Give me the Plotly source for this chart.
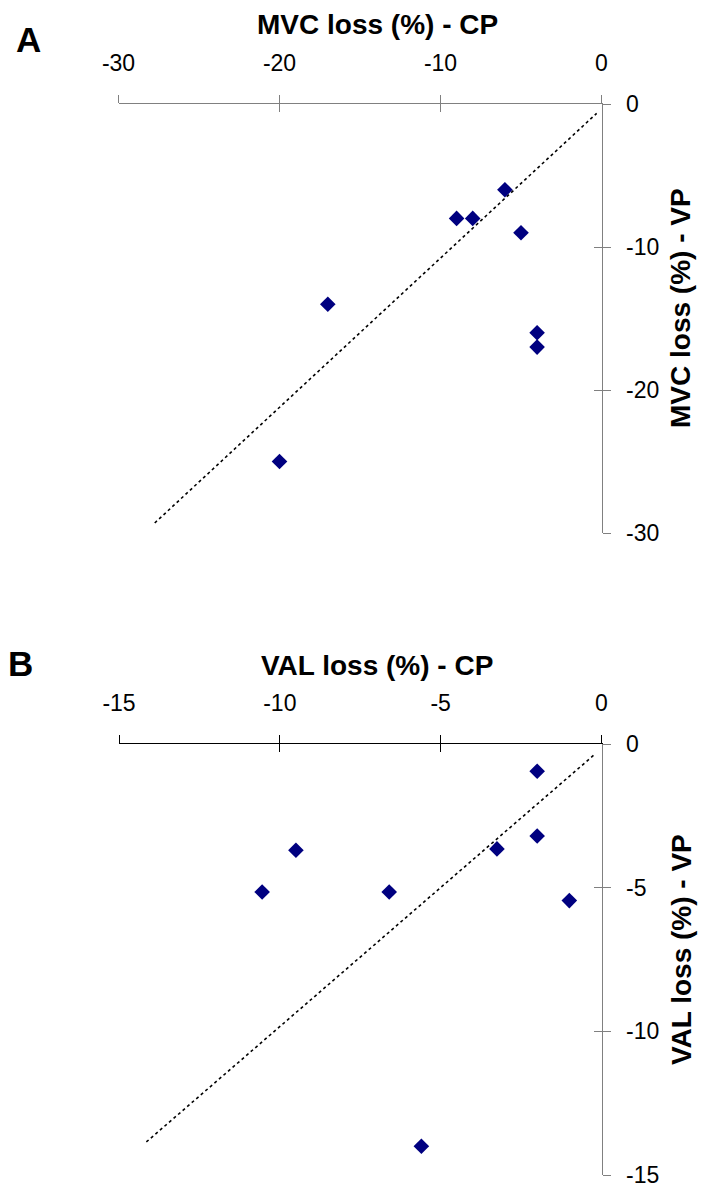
import plotly.graph_objects as go

W, H = 701, 1189

# Panel A data (MVC loss %)
mvc_cp = [-20, -17, -9, -8, -6, -5, -4, -4]
mvc_vp = [-25, -14, -8, -8, -6, -9, -16, -17]
line_a_x = [-27.75, -0.3]
line_a_y = [-29.3, -0.65]
a_xticks = [-30, -20, -10, 0]
a_xticklabels = ["-30", "-20", "-10", "0"]
a_yticks = [0, -10, -20, -30]
a_yticklabels = ["0", "-10", "-20", "-30"]

# Panel B data (VAL loss %)
val_cp = [-10.55, -9.5, -6.6, -5.6, -3.25, -2.0, -2.0, -1.0]
val_vp = [-5.15, -3.7, -5.15, -14.0, -3.65, -0.95, -3.2, -5.45]
line_b_x = [-14.15, -0.2]
line_b_y = [-13.85, -0.35]
b_xticks = [-15, -10, -5, 0]
b_xticklabels = ["-15", "-10", "-5", "0"]
b_yticks = [0, -5, -10, -15]
b_yticklabels = ["0", "-5", "-10", "-15"]

FONT = "Liberation Sans, Arial, sans-serif"
NAVY = "#000080"
GRAY = "#808080"


def px(x):
    return x / W


def py(y):
    return 1 - y / H


fig = go.Figure()

marker = dict(symbol="diamond", size=12, color=NAVY, line=dict(width=0))
dot = dict(color="black", width=1.6, dash="dot")

fig.add_trace(go.Scatter(x=line_a_x, y=line_a_y, mode="lines", line=dot,
                         xaxis="x", yaxis="y", showlegend=False, hoverinfo="skip"))
fig.add_trace(go.Scatter(x=mvc_cp, y=mvc_vp, mode="markers", marker=marker,
                         xaxis="x", yaxis="y", showlegend=False))
fig.add_trace(go.Scatter(x=line_b_x, y=line_b_y, mode="lines", line=dot,
                         xaxis="x2", yaxis="y2", showlegend=False, hoverinfo="skip"))
fig.add_trace(go.Scatter(x=val_cp, y=val_vp, mode="markers", marker=marker,
                         xaxis="x2", yaxis="y2", showlegend=False))
# invisible traces so overlay axes (inner half of crossing ticks) are drawn
fig.add_trace(go.Scatter(x=[None], y=[None], xaxis="x3", yaxis="y3",
                         showlegend=False, hoverinfo="skip"))
fig.add_trace(go.Scatter(x=[None], y=[None], xaxis="x4", yaxis="y4",
                         showlegend=False, hoverinfo="skip"))

tickfont = dict(family=FONT, size=23, color="black")

ax_a_dom_x = [px(118.5), px(601.5)]
ax_a_dom_y = [py(533), py(104)]
ax_b_dom_x = [px(119), px(601.5)]
ax_b_dom_y = [py(1175), py(744)]


def xax(dom, rng, ticks, labels, anchor, color, main=True, overlay=None):
    d = dict(domain=dom, range=rng, tickvals=ticks, ticktext=labels,
             side="top", anchor=anchor, automargin=False,
             showgrid=False, zeroline=False, fixedrange=True,
             ticklen=8, tickwidth=1, tickcolor=color)
    if main:
        d.update(ticks="outside", showline=True, linecolor=color, linewidth=1,
                 tickfont=tickfont, ticklabelstandoff=15)
    else:
        d.update(ticks="inside", showline=False, showticklabels=False,
                 overlaying=overlay)
    return d


def yax(dom, rng, ticks, labels, anchor, color, main=True, overlay=None):
    d = dict(domain=dom, range=rng, tickvals=ticks, ticktext=labels,
             side="right", anchor=anchor, automargin=False,
             showgrid=False, zeroline=False, fixedrange=True,
             ticklen=8, tickwidth=1, tickcolor=color)
    if main:
        d.update(ticks="outside", showline=True, linecolor=color, linewidth=1,
                 tickfont=tickfont, ticklabelstandoff=11)
    else:
        d.update(ticks="inside", showline=False, showticklabels=False,
                 overlaying=overlay)
    return d


fig.update_layout(
    width=W, height=H, autosize=False,
    margin=dict(l=0, r=0, t=0, b=0, pad=0, autoexpand=False),
    paper_bgcolor="white", plot_bgcolor="white",
    font=dict(family=FONT, color="black"),
    xaxis=xax(ax_a_dom_x, [-30, 0], a_xticks, a_xticklabels, "y", GRAY),
    yaxis=yax(ax_a_dom_y, [-30, 0], a_yticks, a_yticklabels, "x", GRAY),
    xaxis2=xax(ax_b_dom_x, [-15, 0], b_xticks, b_xticklabels, "y2", "black"),
    yaxis2=yax(ax_b_dom_y, [-15, 0], b_yticks, b_yticklabels, "x2", GRAY),
    xaxis3=xax(ax_a_dom_x, [-30, 0], a_xticks, a_xticklabels, "y", GRAY,
               main=False, overlay="x"),
    yaxis3=yax(ax_a_dom_y, [-30, 0], a_yticks, a_yticklabels, "x", GRAY,
               main=False, overlay="y"),
    xaxis4=xax(ax_b_dom_x, [-15, 0], b_xticks, b_xticklabels, "y2", "black",
               main=False, overlay="x2"),
    yaxis4=yax(ax_b_dom_y, [-15, 0], b_yticks, b_yticklabels, "x2", GRAY,
               main=False, overlay="y2"),
)

title_font = dict(family=FONT, size=28, color="black")
label_font = dict(family=FONT, size=35, color="black")

annotations = [
    dict(text="<b>MVC loss (%) - CP</b>", x=px(377), y=py(25), font=title_font),
    dict(text="<b>VAL loss (%) - CP</b>", x=px(377), y=py(665), font=title_font),
    dict(text="<b>MVC loss (%) - VP</b>", x=px(681), y=py(308), font=title_font, textangle=-90),
    dict(text="<b>VAL loss (%) - VP</b>", x=px(681), y=py(950), font=title_font, textangle=-90),
    dict(text="<b>A</b>", x=px(28), y=py(40), font=label_font),
    dict(text="<b>B</b>", x=px(20), y=py(663), font=label_font),
]
for a in annotations:
    a.update(xref="paper", yref="paper", showarrow=False,
             xanchor="center", yanchor="middle")
fig.update_layout(annotations=annotations)

post = ("document.documentElement.style.margin='0';"
        "document.documentElement.style.overflow='hidden';"
        "document.body.style.margin='0';document.body.style.padding='0';"
        "document.body.style.overflow='hidden';")
fig.write_html("out.html", post_script=post,
               config={"displayModeBar": False, "staticPlot": True})
